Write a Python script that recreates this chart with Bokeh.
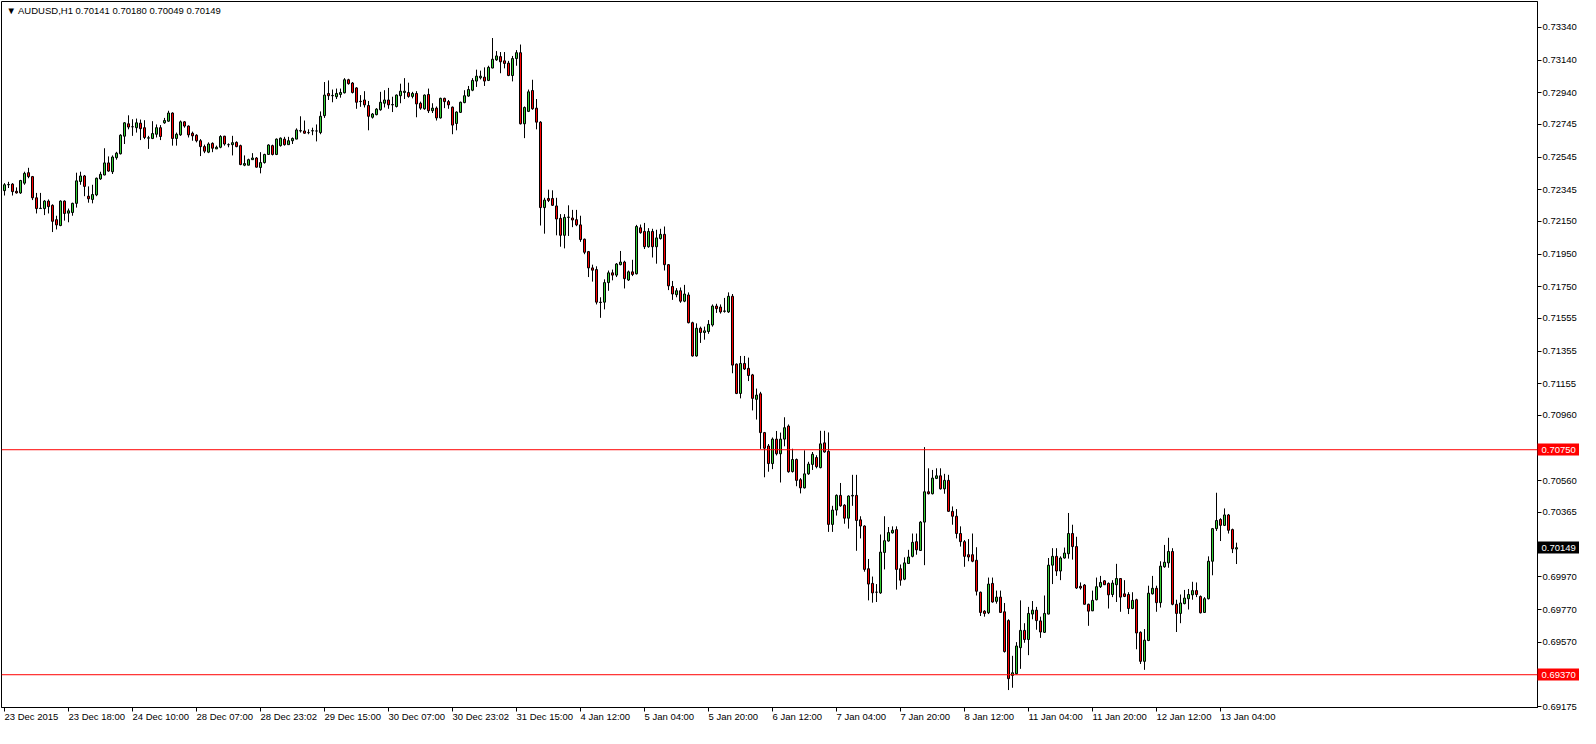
from bokeh.plotting import figure
from bokeh.models import Range1d, LinearAxis, FixedTicker, Span, Label, ColumnDataSource, PrintfTickFormatter
from bokeh.embed import file_html
from bokeh.resources import INLINE

# ---------------- data (AUDUSD, H1 candles) ----------------
chart_title = "\u25bc AUDUSD,H1  0.70141 0.70180 0.70049 0.70149"

opens = [
    0.72339, 0.72375, 0.72379, 0.72335, 0.72325, 0.72385, 0.72449, 0.72425, 0.72295, 0.72229,
    0.72229, 0.72275, 0.72249, 0.72161, 0.72125, 0.72275, 0.72201, 0.72205, 0.72261, 0.72395,
    0.72429, 0.72305, 0.72285, 0.72313, 0.72411, 0.72435, 0.72509, 0.72455, 0.72541, 0.72565,
    0.72673, 0.72749, 0.72731, 0.72725, 0.72753, 0.72725, 0.72661, 0.72659, 0.72685, 0.72725,
    0.72755, 0.72765, 0.72815, 0.72659, 0.72681, 0.72761, 0.72735, 0.72691, 0.72679, 0.72645,
    0.72609, 0.72575, 0.72629, 0.72595, 0.72605, 0.72673, 0.72621, 0.72621, 0.72635, 0.72615,
    0.72495, 0.72495, 0.72529, 0.72539, 0.72481, 0.72511, 0.72561, 0.72615, 0.72561, 0.72615,
    0.72655, 0.72621, 0.72645, 0.72655, 0.72705, 0.72705, 0.72695, 0.72705, 0.72705, 0.72695,
    0.72799, 0.72935, 0.72921, 0.72915, 0.72929, 0.72939, 0.73019, 0.72999, 0.72969, 0.72885,
    0.72895, 0.72861, 0.72789, 0.72805, 0.72835, 0.72875, 0.72895, 0.72865, 0.72855, 0.72921,
    0.72941, 0.72941, 0.72917, 0.72935, 0.72875, 0.72841, 0.72929, 0.72829, 0.72845, 0.72785,
    0.72905, 0.72885, 0.72851, 0.72751, 0.72819, 0.72879, 0.72919, 0.72955, 0.73011, 0.73031,
    0.73035, 0.73015, 0.73091, 0.73141, 0.73161, 0.73135, 0.73121, 0.73045, 0.73149, 0.73185,
    0.72749, 0.72825, 0.72953, 0.72845, 0.72759, 0.72235, 0.72291, 0.72291, 0.72245, 0.72169,
    0.72065, 0.72175, 0.72171, 0.72161, 0.72129, 0.72041, 0.71965, 0.71865, 0.71855, 0.71655,
    0.71655, 0.71775, 0.71835, 0.71821, 0.71885, 0.71901, 0.71791, 0.71841, 0.71829, 0.72111,
    0.72089, 0.71995, 0.72089, 0.71995, 0.72045, 0.72071, 0.71885, 0.71751, 0.71701, 0.71725,
    0.71661, 0.71699, 0.71529, 0.71325, 0.71495, 0.71469, 0.71475, 0.71515, 0.71631, 0.71625,
    0.71599, 0.71595, 0.71691, 0.71275, 0.71095, 0.71279, 0.71249, 0.71209, 0.71059, 0.71093,
    0.70855, 0.70773, 0.70665, 0.70815, 0.70725, 0.70815, 0.70895, 0.70616, 0.70690, 0.70566,
    0.70516, 0.70602, 0.70660, 0.70702, 0.70640, 0.70792, 0.70740, 0.70292, 0.70380, 0.70470,
    0.70410, 0.70330, 0.70466, 0.70470, 0.70320, 0.70282, 0.70020, 0.69930, 0.69876, 0.69872,
    0.70120, 0.70190, 0.70240, 0.70260, 0.70020, 0.69956, 0.70052, 0.70096, 0.70186, 0.70132,
    0.70306, 0.70492, 0.70480, 0.70574, 0.70590, 0.70510, 0.70562, 0.70372, 0.70342, 0.70236,
    0.70186, 0.70106, 0.70106, 0.70072, 0.69876, 0.69760, 0.69750, 0.69930, 0.69820, 0.69846,
    0.69756, 0.69702, 0.69366, 0.69376, 0.69536, 0.69642, 0.69586, 0.69742, 0.69766, 0.69700,
    0.69630, 0.69742, 0.70042, 0.70096, 0.70006, 0.70086, 0.70112, 0.70236, 0.70156, 0.69912,
    0.69920, 0.69802, 0.69762, 0.69830, 0.69910, 0.69946, 0.69930, 0.69862, 0.69922, 0.69960,
    0.69866, 0.69862, 0.69776, 0.69830, 0.69630, 0.69452, 0.69580, 0.69866, 0.69900, 0.69812,
    0.70032, 0.70056, 0.70126, 0.69802, 0.69746, 0.69806, 0.69836, 0.69860, 0.69886, 0.69850,
    0.69752, 0.69836, 0.70066, 0.70266, 0.70322, 0.70286, 0.70350, 0.70260, 0.70141,
]

highs = [
    0.72385, 0.72393, 0.72385, 0.72359, 0.72405, 0.72455, 0.72479, 0.72429, 0.72325, 0.72325,
    0.72281, 0.72285, 0.72255, 0.72185, 0.72279, 0.72279, 0.72229, 0.72265, 0.72449, 0.72455,
    0.72435, 0.72365, 0.72375, 0.72419, 0.72455, 0.72599, 0.72549, 0.72555, 0.72577, 0.72685,
    0.72759, 0.72801, 0.72777, 0.72781, 0.72775, 0.72771, 0.72675, 0.72765, 0.72745, 0.72741,
    0.72785, 0.72829, 0.72819, 0.72695, 0.72769, 0.72765, 0.72739, 0.72701, 0.72685, 0.72655,
    0.72621, 0.72635, 0.72635, 0.72615, 0.72679, 0.72675, 0.72629, 0.72675, 0.72641, 0.72621,
    0.72555, 0.72535, 0.72569, 0.72545, 0.72575, 0.72565, 0.72623, 0.72621, 0.72659, 0.72665,
    0.72669, 0.72669, 0.72665, 0.72721, 0.72795, 0.72769, 0.72715, 0.72725, 0.72745, 0.72825,
    0.73005, 0.73015, 0.72959, 0.72965, 0.72965, 0.73029, 0.73025, 0.73005, 0.72973, 0.72925,
    0.72949, 0.72889, 0.72815, 0.72845, 0.72945, 0.72955, 0.72969, 0.72915, 0.72929, 0.72995,
    0.73029, 0.73001, 0.72945, 0.72949, 0.72885, 0.72929, 0.72965, 0.72875, 0.72855, 0.72909,
    0.72909, 0.72895, 0.72855, 0.72825, 0.72885, 0.72955, 0.72981, 0.73029, 0.73081, 0.73075,
    0.73095, 0.73105, 0.73275, 0.73195, 0.73189, 0.73189, 0.73135, 0.73165, 0.73201, 0.73235,
    0.72855, 0.72959, 0.73019, 0.72901, 0.72765, 0.72295, 0.72345, 0.72341, 0.72295, 0.72195,
    0.72195, 0.72249, 0.72221, 0.72221, 0.72185, 0.72045, 0.71969, 0.71885, 0.71875, 0.71685,
    0.71795, 0.71849, 0.71855, 0.71895, 0.71969, 0.71909, 0.71849, 0.71915, 0.72129, 0.72131,
    0.72141, 0.72109, 0.72105, 0.72099, 0.72105, 0.72119, 0.71889, 0.71785, 0.71741, 0.71745,
    0.71761, 0.71715, 0.71535, 0.71525, 0.71505, 0.71505, 0.71545, 0.71641, 0.71645, 0.71641,
    0.71681, 0.71715, 0.71705, 0.71279, 0.71325, 0.71325, 0.71315, 0.71215, 0.71125, 0.71105,
    0.70859, 0.70785, 0.70825, 0.70865, 0.70855, 0.70949, 0.70905, 0.70756, 0.70696, 0.70576,
    0.70746, 0.70676, 0.70736, 0.70716, 0.70866, 0.70866, 0.70856, 0.70406, 0.70476, 0.70546,
    0.70416, 0.70470, 0.70596, 0.70596, 0.70342, 0.70286, 0.70080, 0.69972, 0.69926, 0.70230,
    0.70342, 0.70276, 0.70280, 0.70280, 0.70046, 0.70090, 0.70136, 0.70236, 0.70236, 0.70312,
    0.70766, 0.70636, 0.70626, 0.70636, 0.70636, 0.70602, 0.70596, 0.70402, 0.70386, 0.70280,
    0.70196, 0.70202, 0.70236, 0.70152, 0.69880, 0.69766, 0.69966, 0.69966, 0.69886, 0.69886,
    0.69810, 0.69710, 0.69486, 0.69570, 0.69826, 0.69686, 0.69786, 0.69822, 0.69786, 0.69726,
    0.69856, 0.70086, 0.70146, 0.70146, 0.70096, 0.70150, 0.70362, 0.70290, 0.70216, 0.69936,
    0.69926, 0.69806, 0.69886, 0.69966, 0.69976, 0.69950, 0.69936, 0.69950, 0.70050, 0.69962,
    0.69950, 0.69876, 0.69876, 0.69836, 0.69636, 0.69650, 0.69916, 0.69976, 0.69916, 0.70066,
    0.70166, 0.70210, 0.70146, 0.69830, 0.69862, 0.69890, 0.69896, 0.69940, 0.69936, 0.69856,
    0.69846, 0.70096, 0.70270, 0.70486, 0.70330, 0.70390, 0.70356, 0.70266, 0.70180,
]

lows = [
    0.72309, 0.72355, 0.72309, 0.72321, 0.72319, 0.72375, 0.72415, 0.72281, 0.72199, 0.72229,
    0.72189, 0.72199, 0.72085, 0.72101, 0.72121, 0.72155, 0.72145, 0.72185, 0.72235, 0.72375,
    0.72305, 0.72265, 0.72261, 0.72305, 0.72405, 0.72433, 0.72455, 0.72441, 0.72529, 0.72561,
    0.72625, 0.72715, 0.72675, 0.72695, 0.72649, 0.72655, 0.72595, 0.72655, 0.72665, 0.72649,
    0.72749, 0.72761, 0.72615, 0.72615, 0.72675, 0.72725, 0.72665, 0.72645, 0.72635, 0.72551,
    0.72569, 0.72569, 0.72575, 0.72595, 0.72599, 0.72615, 0.72605, 0.72555, 0.72605, 0.72495,
    0.72489, 0.72495, 0.72529, 0.72481, 0.72445, 0.72505, 0.72559, 0.72555, 0.72557, 0.72609,
    0.72615, 0.72621, 0.72625, 0.72655, 0.72695, 0.72689, 0.72685, 0.72679, 0.72641, 0.72685,
    0.72785, 0.72895, 0.72881, 0.72901, 0.72909, 0.72935, 0.72989, 0.72935, 0.72841, 0.72853,
    0.72849, 0.72709, 0.72781, 0.72801, 0.72829, 0.72849, 0.72841, 0.72821, 0.72849, 0.72875,
    0.72901, 0.72909, 0.72905, 0.72789, 0.72835, 0.72835, 0.72815, 0.72815, 0.72769, 0.72781,
    0.72845, 0.72841, 0.72685, 0.72709, 0.72815, 0.72875, 0.72915, 0.72949, 0.72975, 0.73021,
    0.72981, 0.73011, 0.73089, 0.73135, 0.73059, 0.73089, 0.73041, 0.73009, 0.73105, 0.72745,
    0.72661, 0.72821, 0.72835, 0.72715, 0.72125, 0.72075, 0.72269, 0.72245, 0.72065, 0.71995,
    0.71985, 0.72061, 0.72115, 0.72121, 0.72025, 0.71949, 0.71809, 0.71781, 0.71641, 0.71559,
    0.71611, 0.71725, 0.71789, 0.71809, 0.71881, 0.71739, 0.71785, 0.71815, 0.71825, 0.72075,
    0.71981, 0.71989, 0.71929, 0.71891, 0.72039, 0.71849, 0.71729, 0.71669, 0.71685, 0.71651,
    0.71655, 0.71525, 0.71321, 0.71321, 0.71405, 0.71425, 0.71461, 0.71505, 0.71589, 0.71585,
    0.71591, 0.71589, 0.71219, 0.71091, 0.71065, 0.71239, 0.71171, 0.70991, 0.70935, 0.70755,
    0.70581, 0.70615, 0.70631, 0.70715, 0.70549, 0.70771, 0.70609, 0.70610, 0.70526, 0.70482,
    0.70512, 0.70596, 0.70626, 0.70636, 0.70636, 0.70732, 0.70246, 0.70246, 0.70346, 0.70400,
    0.70296, 0.70266, 0.70406, 0.70130, 0.70206, 0.70002, 0.69826, 0.69812, 0.69816, 0.69866,
    0.70016, 0.70186, 0.70236, 0.69892, 0.69916, 0.69950, 0.70050, 0.70090, 0.70106, 0.70130,
    0.70042, 0.70476, 0.70476, 0.70570, 0.70506, 0.70480, 0.70370, 0.70290, 0.70206, 0.70156,
    0.70032, 0.70066, 0.70060, 0.69856, 0.69730, 0.69726, 0.69742, 0.69812, 0.69806, 0.69750,
    0.69506, 0.69276, 0.69290, 0.69372, 0.69406, 0.69566, 0.69490, 0.69710, 0.69646, 0.69596,
    0.69626, 0.69740, 0.69926, 0.69976, 0.69950, 0.70082, 0.70082, 0.70076, 0.69896, 0.69892,
    0.69802, 0.69670, 0.69760, 0.69826, 0.69902, 0.69922, 0.69776, 0.69846, 0.69816, 0.69756,
    0.69846, 0.69742, 0.69772, 0.69526, 0.69436, 0.69400, 0.69576, 0.69862, 0.69756, 0.69782,
    0.70026, 0.70026, 0.69796, 0.69632, 0.69686, 0.69802, 0.69770, 0.69830, 0.69846, 0.69746,
    0.69750, 0.69832, 0.69980, 0.70252, 0.70190, 0.70282, 0.70236, 0.70116, 0.70049,
]

closes = [
    0.72375, 0.72377, 0.72333, 0.72325, 0.72401, 0.72445, 0.72425, 0.72295, 0.72229, 0.72231,
    0.72275, 0.72241, 0.72151, 0.72129, 0.72275, 0.72199, 0.72215, 0.72261, 0.72399, 0.72429,
    0.72365, 0.72289, 0.72315, 0.72415, 0.72439, 0.72509, 0.72459, 0.72545, 0.72569, 0.72679,
    0.72755, 0.72729, 0.72731, 0.72755, 0.72719, 0.72665, 0.72663, 0.72689, 0.72725, 0.72671,
    0.72769, 0.72815, 0.72659, 0.72685, 0.72761, 0.72735, 0.72681, 0.72675, 0.72645, 0.72609,
    0.72581, 0.72625, 0.72599, 0.72605, 0.72671, 0.72625, 0.72621, 0.72633, 0.72609, 0.72499,
    0.72505, 0.72529, 0.72539, 0.72483, 0.72511, 0.72561, 0.72619, 0.72561, 0.72655, 0.72661,
    0.72621, 0.72645, 0.72659, 0.72711, 0.72707, 0.72691, 0.72695, 0.72707, 0.72705, 0.72795,
    0.72925, 0.72921, 0.72923, 0.72935, 0.72941, 0.73019, 0.72995, 0.72941, 0.72881, 0.72887,
    0.72865, 0.72795, 0.72809, 0.72839, 0.72881, 0.72895, 0.72865, 0.72867, 0.72925, 0.72949,
    0.72949, 0.72917, 0.72935, 0.72871, 0.72845, 0.72925, 0.72829, 0.72845, 0.72785, 0.72905,
    0.72885, 0.72865, 0.72741, 0.72821, 0.72881, 0.72921, 0.72959, 0.73015, 0.73041, 0.73041,
    0.73011, 0.73095, 0.73145, 0.73165, 0.73129, 0.73119, 0.73045, 0.73149, 0.73185, 0.72749,
    0.72849, 0.72945, 0.72841, 0.72759, 0.72235, 0.72281, 0.72279, 0.72249, 0.72165, 0.72065,
    0.72175, 0.72177, 0.72159, 0.72129, 0.72039, 0.71961, 0.71865, 0.71851, 0.71655, 0.71653,
    0.71775, 0.71835, 0.71821, 0.71889, 0.71901, 0.71799, 0.71841, 0.71825, 0.72119, 0.72081,
    0.71995, 0.72089, 0.71995, 0.72049, 0.72071, 0.71885, 0.71755, 0.71705, 0.71725, 0.71661,
    0.71705, 0.71529, 0.71325, 0.71495, 0.71469, 0.71479, 0.71519, 0.71631, 0.71615, 0.71595,
    0.71601, 0.71691, 0.71269, 0.71095, 0.71279, 0.71245, 0.71205, 0.71065, 0.71085, 0.70855,
    0.70759, 0.70665, 0.70815, 0.70725, 0.70815, 0.70885, 0.70615, 0.70690, 0.70562, 0.70516,
    0.70602, 0.70662, 0.70722, 0.70646, 0.70786, 0.70736, 0.70292, 0.70380, 0.70470, 0.70406,
    0.70330, 0.70466, 0.70470, 0.70316, 0.70282, 0.70016, 0.69926, 0.69872, 0.69876, 0.70122,
    0.70192, 0.70242, 0.70256, 0.70016, 0.69950, 0.70056, 0.70092, 0.70182, 0.70136, 0.70306,
    0.70492, 0.70480, 0.70576, 0.70590, 0.70510, 0.70562, 0.70372, 0.70342, 0.70236, 0.70186,
    0.70096, 0.70092, 0.70066, 0.69882, 0.69752, 0.69746, 0.69926, 0.69816, 0.69846, 0.69752,
    0.69512, 0.69346, 0.69382, 0.69546, 0.69642, 0.69586, 0.69746, 0.69766, 0.69702, 0.69632,
    0.69746, 0.70042, 0.70096, 0.70006, 0.70086, 0.70116, 0.70236, 0.70156, 0.69902, 0.69902,
    0.69802, 0.69760, 0.69826, 0.69910, 0.69936, 0.69922, 0.69860, 0.69932, 0.69960, 0.69846,
    0.69850, 0.69776, 0.69826, 0.69626, 0.69452, 0.69582, 0.69870, 0.69900, 0.69812, 0.70036,
    0.70060, 0.70126, 0.69802, 0.69746, 0.69810, 0.69840, 0.69862, 0.69886, 0.69862, 0.69750,
    0.69836, 0.70066, 0.70266, 0.70316, 0.70286, 0.70350, 0.70256, 0.70142, 0.70149,
]

time_tick_bars = [0, 16, 32, 48, 64, 80, 96, 112, 128, 144, 160, 176, 192, 208, 224, 240, 256, 272, 288, 304]
time_tick_labels = [
    "23 Dec 2015", "23 Dec 18:00", "24 Dec 10:00", "28 Dec 07:00", "28 Dec 23:02",
    "29 Dec 15:00", "30 Dec 07:00", "30 Dec 23:02", "31 Dec 15:00", "4 Jan 12:00",
    "5 Jan 04:00", "5 Jan 20:00", "6 Jan 12:00", "7 Jan 04:00", "7 Jan 20:00",
    "8 Jan 12:00", "11 Jan 04:00", "11 Jan 20:00", "12 Jan 12:00", "13 Jan 04:00",
]

price_ticks = [
    0.73340, 0.73140, 0.72940, 0.72745, 0.72545, 0.72345, 0.72150, 0.71950, 0.71750,
    0.71555, 0.71355, 0.71155, 0.70960, 0.70560, 0.70365, 0.69970, 0.69770, 0.69570, 0.69175,
]

level_prices = [0.70750, 0.69370]
last_price = [0.70149]

# ---------------- chart ----------------
FONT = "Liberation Sans"
FS = "9.5px"
BULL = "#32cd32"
BEAR = "#ff0000"

n = len(opens)
bars = list(range(n))
src = ColumnDataSource(dict(
    x=bars,
    top=[max(o, c) for o, c in zip(opens, closes)],
    bottom=[min(o, c) for o, c in zip(opens, closes)],
    high=highs,
    low=lows,
    color=[BULL if c >= o else BEAR for o, c in zip(opens, closes)],
))

FRAME_W = 1536
FRAME_H = 706
PX_PER_BAR = 4.0
x0 = -0.75
x1 = x0 + FRAME_W / PX_PER_BAR
y0, y1 = 0.69169, 0.73499

p = figure(
    frame_width=FRAME_W, frame_height=FRAME_H,
    x_range=Range1d(x0, x1), y_range=Range1d(y0, y1),
    x_axis_location=None, y_axis_location=None,
    output_backend="svg", toolbar_location=None,
    min_border=0, min_border_left=1, min_border_top=1,
    background_fill_color="white", border_fill_color="white",
)
p.outline_line_color = "black"
p.outline_line_width = 1
p.xgrid.visible = False
p.ygrid.visible = False

# wicks then bodies
p.segment(x0="x", y0="low", x1="x", y1="high", source=src, line_color="black", line_width=1)
p.vbar(x="x", width=0.5, top="top", bottom="bottom", source=src,
       fill_color="color", line_color="black", line_width=1)

# horizontal levels
for lv in level_prices:
    p.add_layout(Span(location=lv, dimension="width", line_color="red", line_width=1))

# bottom time axis (labels start at their tick)
xaxis = LinearAxis(
    ticker=FixedTicker(ticks=time_tick_bars, minor_ticks=[]),
    major_label_overrides={b: t for b, t in zip(time_tick_bars, time_tick_labels)},
    major_label_orientation=-0.0001,
)
xaxis.major_label_text_font = FONT
xaxis.major_label_text_font_size = FS
xaxis.major_label_text_color = "black"
xaxis.major_label_standoff = 5
xaxis.major_tick_in = 0
xaxis.major_tick_out = 4
xaxis.minor_tick_in = 0
xaxis.minor_tick_out = 0
xaxis.axis_line_color = "black"
xaxis.major_tick_line_color = "black"
p.add_layout(xaxis, "below")

# right price axis
AX_TICK_OUT, AX_STANDOFF = 4, 1
yaxis = LinearAxis(
    ticker=FixedTicker(ticks=price_ticks, minor_ticks=[]),
    formatter=PrintfTickFormatter(format="%.5f"),
)
yaxis.major_label_text_font = FONT
yaxis.major_label_text_font_size = FS
yaxis.major_label_text_color = "black"
yaxis.major_label_standoff = AX_STANDOFF
yaxis.major_tick_in = 0
yaxis.major_tick_out = AX_TICK_OUT
yaxis.minor_tick_in = 0
yaxis.minor_tick_out = 0
yaxis.axis_line_color = "black"
yaxis.major_tick_line_color = "black"
p.add_layout(yaxis, "right")

# coloured price tags: extra axes stacked after the price axis, whose thick
# inward ticks reach back over the price-axis label column
AXIS_PANEL_GUESS = 43
TAG_OUT = 10


def add_tag_axis(prices, color):
    ax = LinearAxis(
        ticker=FixedTicker(ticks=prices, minor_ticks=[]),
        formatter=PrintfTickFormatter(format="%.5f"),
    )
    ax.axis_line_color = None
    ax.major_tick_in = AXIS_PANEL_GUESS - 1
    ax.major_tick_out = TAG_OUT
    ax.major_tick_line_width = 12
    ax.major_tick_line_color = color
    ax.minor_tick_in = 0
    ax.minor_tick_out = 0
    ax.major_label_standoff = (AX_TICK_OUT + AX_STANDOFF) - AXIS_PANEL_GUESS - TAG_OUT
    ax.major_label_text_font = FONT
    ax.major_label_text_font_size = FS
    ax.major_label_text_color = "white"
    p.add_layout(ax, "right")


add_tag_axis(level_prices, "red")
add_tag_axis(last_price, "black")

# top-left title
p.add_layout(Label(
    x=x0, y=y1, x_offset=5, y_offset=-3, text=chart_title,
    text_font=FONT, text_font_size=FS, text_color="black",
    text_align="left", text_baseline="top",
))

open("out.html", "w").write(file_html(p, INLINE))
